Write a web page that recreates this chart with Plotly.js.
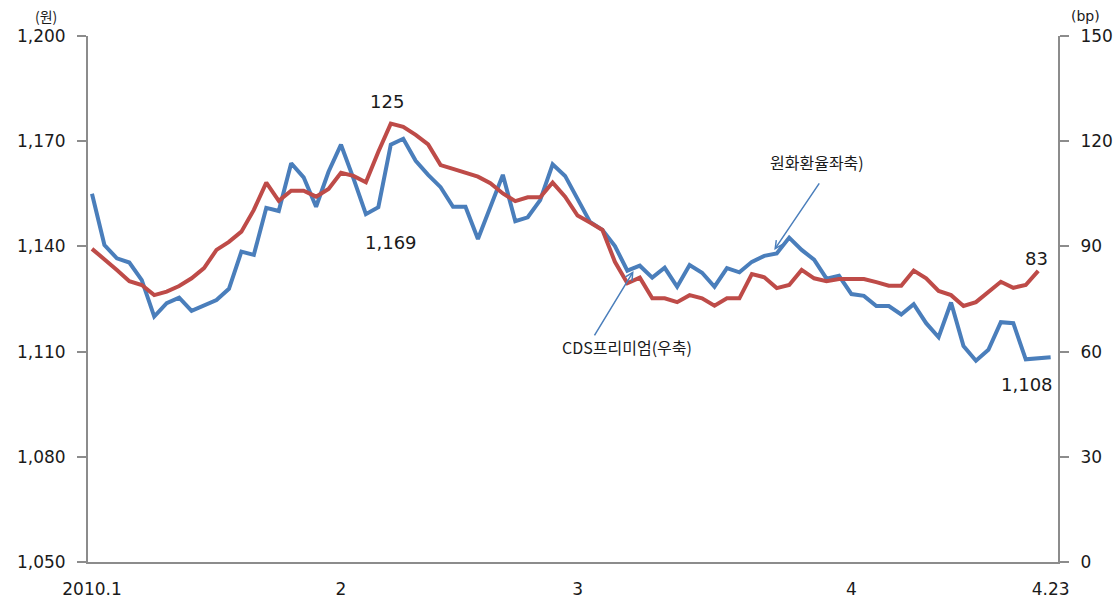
<!DOCTYPE html>
<html>
<head>
<meta charset="utf-8">
<script src="https://cdn.plot.ly/plotly-3.0.1.min.js"></script>
<style>
  html, body { margin: 0; padding: 0; background: #ffffff; }
  #chart { width: 1118px; height: 601px; }
</style>
</head>
<body>
<div id="chart"></div>
<script>
// 원/달러 환율 (좌축, 원) — 2010.1.4 ~ 4.23 영업일
const won = [
  1155.0, 1140.4, 1136.6, 1135.4, 1130.4, 1120.0, 1123.8, 1125.4, 1121.6, 1123.1,
  1124.7, 1127.9, 1138.5, 1137.6, 1151.0, 1150.1, 1163.7, 1159.7, 1151.3, 1161.3,
  1169.0, 1159.4, 1149.2, 1151.2, 1169.0, 1170.7, 1164.4, 1160.4, 1156.9, 1151.3,
  1151.3, 1142.1, 1150.9, 1160.4, 1147.2, 1148.3, 1153.2, 1163.4, 1160.1, 1153.5,
  1147.0, 1144.7, 1140.1, 1133.1, 1134.5, 1131.1, 1133.9, 1128.5, 1134.7, 1132.5,
  1128.5, 1133.8, 1132.6, 1135.6, 1137.3, 1138.0, 1142.5, 1139.0, 1136.2, 1130.8,
  1131.6, 1126.4, 1125.9, 1123.0, 1123.0, 1120.6, 1123.5, 1118.1, 1114.1, 1124.0,
  1111.6, 1107.4, 1110.5, 1118.4, 1118.1, 1107.8, 1108.2, 1108.4
];

// CDS 프리미엄 (우축, bp)
const cds = [
  89.3, 86.4, 83.3, 80.1, 79.0, 76.1, 77.1, 78.7, 80.9, 83.8,
  89.0, 91.3, 94.2, 100.4, 108.2, 103.0, 105.9, 105.9, 104.2, 106.4,
  111.0, 110.1, 108.3, 117.0, 125.0, 124.1, 121.8, 119.1, 113.2, 112.1,
  111.0, 109.9, 108.0, 105.1, 102.9, 104.0, 104.0, 108.2, 104.2, 98.8,
  96.8, 94.7, 85.6, 79.5, 81.1, 75.2, 75.2, 74.1, 76.1, 75.2,
  73.1, 75.2, 75.2, 82.1, 81.2, 78.1, 79.0, 83.3, 80.9, 80.1,
  80.7, 80.7, 80.7, 79.8, 78.8, 78.8, 83.1, 80.9, 77.3, 76.1,
  73.0, 74.1, 77.1, 79.9, 78.2, 79.0, 83.0
];

// x축 눈금 (영업일 순번 기준)
const tickPos = [0, 20, 39, 61, 77];
const tickText = ['2010.1', '2', '3', '4', '4.23'];

const dayIdx = won.map((_, i) => i);
const cdsIdx = cds.map((_, i) => i);

const FONT = 'DejaVu Sans, Noto Sans CJK KR, sans-serif';
const KFONT = 'Noto Sans CJK KR, DejaVu Sans, sans-serif';
const AXIS_GRAY = '#8c8c8c';
const INK = '#1a1a1a';
const BLUE = '#4A7EBB';
const RED = '#BE4B48';

const peakI = 24;
const lastW = won.length - 1;
const lastC = cds.length - 1;

const traces = [
  {
    x: dayIdx, y: won, yaxis: 'y', type: 'scatter', mode: 'lines',
    name: '원화환율', line: { color: BLUE, width: 4 }, hoverinfo: 'skip'
  },
  {
    x: cdsIdx, y: cds, yaxis: 'y2', type: 'scatter', mode: 'lines',
    name: 'CDS프리미엄', line: { color: RED, width: 4 }, hoverinfo: 'skip'
  }
];

const fmt = v => Math.round(v).toLocaleString('en-US');
const tickFont = { family: FONT, size: 17, color: INK };
const valFont = { family: FONT, size: 18, color: INK };
const noteFont = { family: KFONT, size: 16, color: INK };

const layout = {
  width: 1118, height: 601,
  margin: { l: 88, r: 60, t: 36, b: 39 },
  paper_bgcolor: '#ffffff', plot_bgcolor: '#ffffff',
  showlegend: false,
  font: { family: FONT, color: INK, size: 16 },
  xaxis: {
    range: [-0.32, 77.59],
    tickmode: 'array', tickvals: tickPos, ticktext: tickText,
    showline: true, linecolor: AXIS_GRAY, linewidth: 2,
    ticks: '', showgrid: false, zeroline: false,
    tickfont: tickFont, ticklabelstandoff: 11
  },
  yaxis: {
    range: [1050, 1200], tick0: 1050, dtick: 30, tickformat: ',',
    showline: true, linecolor: AXIS_GRAY, linewidth: 2,
    ticks: 'outside', ticklen: 9, tickwidth: 2, tickcolor: AXIS_GRAY,
    showgrid: false, zeroline: false,
    tickfont: tickFont, ticklabelstandoff: 8
  },
  yaxis2: {
    range: [0, 150], tick0: 0, dtick: 30,
    overlaying: 'y', side: 'right',
    showline: true, linecolor: AXIS_GRAY, linewidth: 2,
    ticks: 'outside', ticklen: 9, tickwidth: 2, tickcolor: AXIS_GRAY,
    showgrid: false, zeroline: false,
    tickfont: tickFont, ticklabelstandoff: 8
  },
  annotations: [
    // 단위
    { xref: 'paper', yref: 'paper', x: -0.0495, y: 1.038, xshift: 6, yanchor: 'middle', xanchor: 'center',
      text: '(원)', showarrow: false, font: { family: KFONT, size: 14, color: INK } },
    { xref: 'paper', yref: 'paper', x: 1.028, y: 1.038, yanchor: 'middle', xanchor: 'center',
      text: '(bp)', showarrow: false, font: { family: FONT, size: 14, color: INK } },

    // 값 표시
    { xref: 'x', yref: 'y2', x: peakI, y: cds[peakI], yshift: 22, xshift: -4,
      text: fmt(cds[peakI]), showarrow: false, font: valFont },
    { xref: 'x', yref: 'y', x: peakI, y: won[peakI], yshift: -98,
      text: fmt(won[peakI]), showarrow: false, font: valFont },
    { xref: 'x', yref: 'y2', x: lastC, y: cds[lastC], yshift: 12, xshift: -2,
      text: fmt(cds[lastC]), showarrow: false, font: valFont },
    { xref: 'x', yref: 'y', x: lastW, y: won[lastW], yshift: -27, xshift: -24,
      text: fmt(won[lastW]), showarrow: false, font: valFont },

    // 계열 설명선
    { xref: 'x', yref: 'y', x: 54.8, y: 1139, axref: 'pixel', ayref: 'pixel', ax: 46, ay: -68,
      text: '', showarrow: true, arrowhead: 5, arrowsize: 1, arrowwidth: 1.5, arrowcolor: BLUE, standoff: 0 },
    { xref: 'x', yref: 'y', x: 58.2, y: 1139, yshift: 88,
      text: '원화환율좌축)', showarrow: false, font: noteFont },
    { xref: 'x', yref: 'y2', x: 43.5, y: 83, axref: 'pixel', ayref: 'pixel', ax: -40, ay: 66,
      text: '', showarrow: true, arrowhead: 5, arrowsize: 1, arrowwidth: 1.5, arrowcolor: BLUE, standoff: 0 },
    { xref: 'x', yref: 'y2', x: 43.0, y: 83, yshift: -76,
      text: 'CDS프리미엄(우축)', showarrow: false, font: noteFont }
  ]
};

Plotly.newPlot('chart', traces, layout, { staticPlot: true, displayModeBar: false });
</script>
</body>
</html>
